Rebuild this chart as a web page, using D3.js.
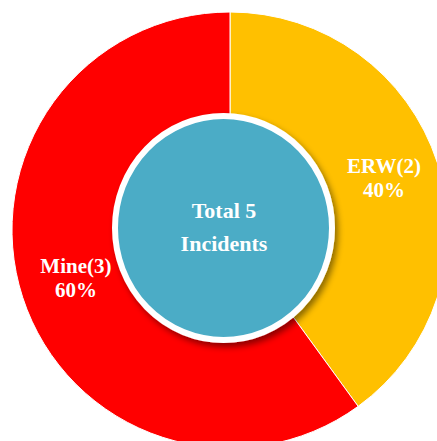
<!DOCTYPE html>
<html>
<head>
<meta charset="utf-8">
<script src="https://cdn.jsdelivr.net/npm/d3@7"></script>
<style>
  body { margin: 0; background: white; overflow: hidden; }
  text { font-family: "Liberation Serif", "Times New Roman", serif; font-weight: bold; fill: white; }
</style>
</head>
<body>
<svg id="chart"></svg>
<script>
var categories = ["ERW", "Mine"]
var values = [2, 3]
var colors = ["#FFC000", "#FF0000"]
var centerLabel = ["Total", "Incidents"]

var width = 437
var height = 441

var svg = d3.select("#chart")
    .attr("width", width)
    .attr("height", height)

var defs = svg.append("defs")
var shadow = defs.append("filter")
    .attr("id", "shadow")
    .attr("x", "-20%").attr("y", "-20%")
    .attr("width", "140%").attr("height", "140%")
shadow.append("feDropShadow")
    .attr("dx", 3)
    .attr("dy", 4)
    .attr("stdDeviation", 3)
    .attr("flood-color", "#000")
    .attr("flood-opacity", 0.45)

var cx = 230, cy = 230
var outerR = 218

var g = svg.append("g")
    .attr("transform", "translate(" + cx + "," + cy + ")")

var total = d3.sum(values)
var data = categories.map(function(c, i) { return {name: c, value: values[i], color: colors[i]} })

var pie = d3.pie()
    .sort(null)
    .value(function(d) { return d.value })

var arc = d3.arc()
    .innerRadius(0)
    .outerRadius(outerR)

var labelArc = d3.arc()
    .innerRadius(162)
    .outerRadius(162)

g.selectAll("path.slice")
    .data(pie(data))
    .enter()
    .append("path")
    .attr("class", "slice")
    .attr("d", arc)
    .attr("fill", function(d) { return d.data.color })
    .attr("stroke", "white")
    .attr("stroke-width", 1)

// centre disc (slightly taller than wide, like the source image)
g.append("ellipse")
    .attr("cx", -6.5)
    .attr("cy", -2)
    .attr("rx", 108.5)
    .attr("ry", 112)
    .attr("fill", "#4BACC6")
    .attr("stroke", "white")
    .attr("stroke-width", 6)
    .attr("filter", "url(#shadow)")

var labels = g.selectAll("text.label")
    .data(pie(data))
    .enter()
    .append("text")
    .attr("class", "label")
    .attr("text-anchor", "middle")
    .style("font-size", "21px")
    .attr("transform", function(d) {
        var c = labelArc.centroid(d)
        return "translate(" + c[0] + "," + c[1] + ")"
    })

labels.append("tspan")
    .attr("x", 0)
    .attr("y", -7)
    .text(function(d) { return d.data.name + "(" + d.data.value + ")" })

labels.append("tspan")
    .attr("x", 0)
    .attr("y", 17)
    .text(function(d) { return Math.round(d.data.value / total * 100) + "%" })

var center = g.append("text")
    .attr("text-anchor", "middle")
    .style("font-size", "22px")

center.append("tspan")
    .attr("x", -6)
    .attr("y", -12)
    .text(centerLabel[0] + " " + total)

center.append("tspan")
    .attr("x", -6)
    .attr("y", 21)
    .text(centerLabel[1])
</script>
</body>
</html>
